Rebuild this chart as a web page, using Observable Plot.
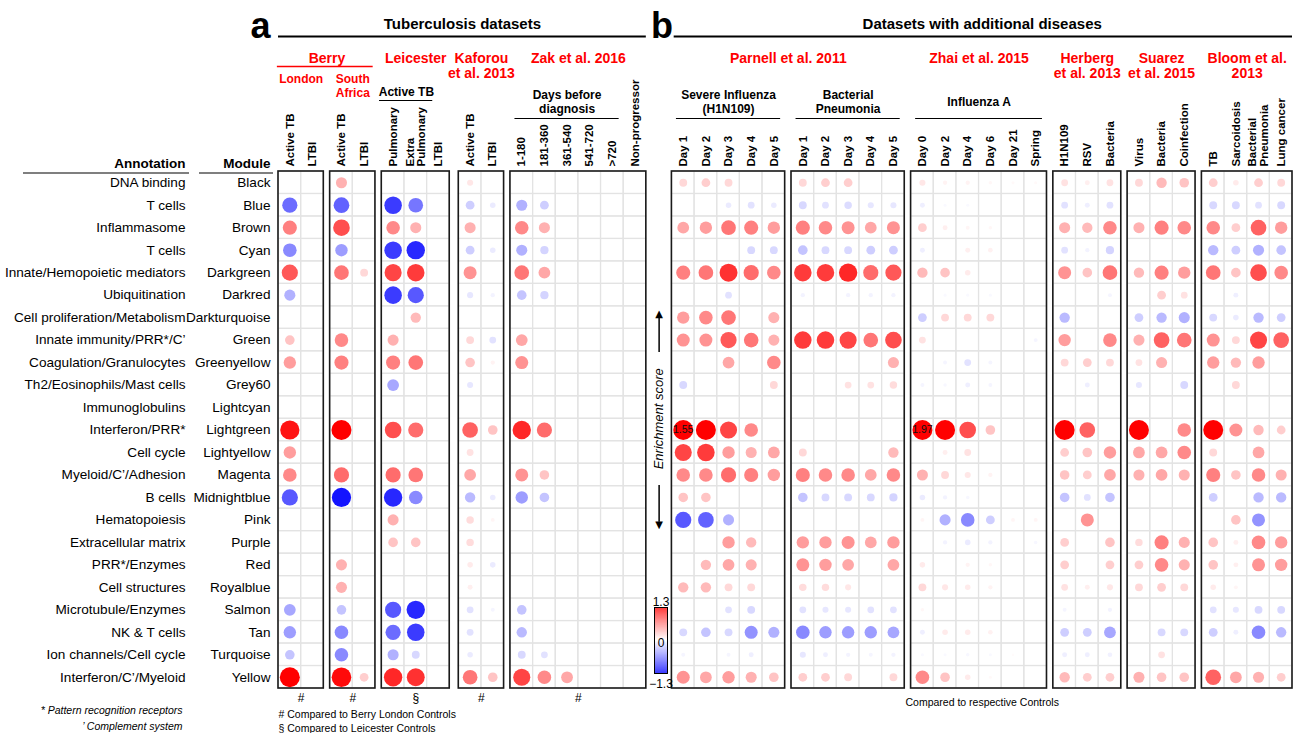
<!DOCTYPE html>
<html>
<head>
<meta charset="utf-8">
<script src="https://cdn.jsdelivr.net/npm/d3@7"></script>
<script src="https://cdn.jsdelivr.net/npm/@observablehq/plot@0.6"></script>
<style>
  html, body { margin: 0; padding: 0; background: #fff; }
  #wrap { position: relative; width: 1295px; height: 733px; overflow: hidden; }
  #wrap > svg { position: absolute; left: 0; top: 0; }
  #legend { position: absolute; left: 630px; top: 590px; }
</style>
</head>
<body>
<div id="wrap"><div id="legend"></div></div>
<script>
// ---------------- data ----------------
const modules = ["Black","Blue","Brown","Cyan","Darkgreen","Darkred","Darkturquoise","Green","Greenyellow","Grey60","Lightcyan","Lightgreen","Lightyellow","Magenta","Midnightblue","Pink","Purple","Red","Royalblue","Salmon","Tan","Turquoise","Yellow"];
const annotations = ["DNA binding","T cells","Inflammasome","T cells","Innate/Hemopoietic mediators","Ubiquitination","Cell proliferation/Metabolism","Innate immunity/PRR*/C\u2019","Coagulation/Granulocytes","Th2/Eosinophils/Mast cells","Immunoglobulins","Interferon/PRR*","Cell cycle","Myeloid/C\u2019/Adhesion","B cells","Hematopoiesis","Extracellular matrix","PRR*/Enzymes","Cell structures","Microtubule/Enzymes","NK & T cells","Ion channels/Cell cycle","Interferon/C\u2019/Myeloid"];

// Panel a — Tuberculosis datasets (enrichment score per module; missing = not significant)
const berryLondon = {
  "Active TB": {Blue:-0.75, Brown:0.65, Cyan:-0.6, Darkgreen:0.85, Darkred:-0.4, Green:0.3, Greenyellow:0.5, Lightgreen:1.2, Lightyellow:0.5, Magenta:0.6, Midnightblue:-0.85, Salmon:-0.45, Tan:-0.5, Turquoise:-0.3, Yellow:1.3},
  "LTBI": {}
};
const berrySouthAfrica = {
  "Active TB": {Black:0.4, Blue:-0.8, Brown:0.9, Cyan:-0.5, Darkgreen:0.7, Green:0.6, Greenyellow:0.65, Lightgreen:1.3, Magenta:0.75, Midnightblue:-1.2, Red:0.4, Royalblue:0.4, Salmon:-0.3, Tan:-0.6, Turquoise:-0.6, Yellow:1.25},
  "LTBI": {Darkgreen:0.2, Yellow:0.25}
};
const leicester = {
  "Pulmonary": {Blue:-1.0, Brown:0.6, Cyan:-1.0, Darkgreen:0.95, Darkred:-1.0, Green:0.4, Greenyellow:0.65, Grey60:-0.45, Lightgreen:0.9, Magenta:0.75, Midnightblue:-1.1, Pink:0.4, Purple:0.3, Salmon:-0.85, Tan:-0.75, Turquoise:-0.4, Yellow:1.1},
  "Extra\nPulmonary": {Blue:-0.7, Brown:0.4, Cyan:-1.1, Darkgreen:1.0, Darkred:-0.85, Darkturquoise:0.35, Greenyellow:0.7, Lightgreen:0.75, Magenta:0.7, Midnightblue:-0.6, Purple:0.3, Salmon:-1.1, Tan:-1.0, Turquoise:-0.2, Yellow:1.05},
  "LTBI": {}
};
const kaforou = {
  "Active TB": {Black:0.12, Blue:-0.25, Brown:0.4, Cyan:-0.25, Darkgreen:0.55, Darkred:-0.12, Green:0.2, Greenyellow:0.3, Grey60:-0.12, Lightgreen:0.8, Lightyellow:0.15, Magenta:0.45, Midnightblue:-0.35, Pink:0.18, Purple:0.18, Red:0.1, Royalblue:0.08, Salmon:-0.15, Tan:-0.15, Turquoise:-0.1, Yellow:0.7},
  "LTBI": {Blue:-0.1, Cyan:-0.1, Darkred:-0.06, Green:-0.15, Greenyellow:0.06, Lightgreen:0.3, Midnightblue:-0.1, Pink:0.05, Red:-0.1, Salmon:-0.05, Yellow:0.3}
};
const zak = {
  "1-180": {Blue:-0.4, Brown:0.6, Cyan:-0.4, Darkgreen:0.7, Darkred:-0.3, Green:0.45, Greenyellow:0.55, Lightgreen:1.1, Magenta:0.55, Midnightblue:-0.5, Salmon:-0.3, Tan:-0.35, Turquoise:-0.2, Yellow:0.95},
  "181-360": {Blue:-0.25, Brown:0.4, Cyan:-0.22, Darkgreen:0.45, Darkred:-0.22, Lightgreen:0.75, Magenta:0.3, Midnightblue:-0.3, Turquoise:-0.15, Yellow:0.6},
  "361-540": {Yellow:0.45},
  "541-720": {},
  ">720": {},
  "Non-progressor": {}
};

// Panel b — Datasets with additional diseases
const parnellInfluenza = {
  "Day 1": {Black:0.2, Brown:0.45, Darkgreen:0.65, Darkturquoise:0.5, Green:0.55, Grey60:-0.2, Lightgreen:1.55, Lightyellow:0.95, Magenta:0.6, Midnightblue:0.3, Pink:-0.85, Royalblue:0.35, Tan:-0.2, Turquoise:-0.05, Yellow:0.55},
  "Day 2": {Black:0.25, Brown:0.5, Darkgreen:0.7, Darkturquoise:0.6, Green:0.55, Lightgreen:1.45, Lightyellow:1.0, Magenta:0.6, Midnightblue:0.3, Pink:-0.8, Red:0.35, Royalblue:0.35, Tan:-0.3, Yellow:0.45},
  "Day 3": {Black:0.2, Blue:-0.1, Brown:0.7, Darkgreen:1.05, Darkred:-0.15, Darkturquoise:0.7, Green:0.85, Greenyellow:0.45, Lightgreen:0.95, Lightyellow:0.5, Magenta:0.75, Pink:-0.4, Purple:0.5, Red:0.45, Royalblue:0.2, Salmon:-0.15, Tan:-0.2, Turquoise:-0.05, Yellow:0.5},
  "Day 4": {Blue:-0.15, Brown:0.65, Cyan:-0.2, Darkgreen:0.75, Green:0.7, Lightgreen:0.6, Lightyellow:0.4, Magenta:0.65, Purple:0.35, Red:0.4, Royalblue:0.2, Salmon:-0.2, Tan:-0.55, Turquoise:-0.08, Yellow:0.4},
  "Day 5": {Blue:-0.1, Brown:0.5, Cyan:-0.2, Darkgreen:0.6, Darkturquoise:0.4, Green:0.4, Greenyellow:0.6, Grey60:0.2, Lightyellow:0.45, Magenta:0.5, Tan:-0.4, Yellow:0.3}
};
const parnellPneumonia = {
  "Day 1": {Black:0.2, Blue:-0.2, Brown:0.65, Cyan:-0.3, Darkgreen:1.0, Darkred:-0.06, Green:1.0, Lightyellow:0.2, Magenta:0.65, Midnightblue:-0.3, Purple:0.5, Red:0.55, Royalblue:0.18, Salmon:-0.15, Tan:-0.6, Turquoise:-0.12, Yellow:0.25},
  "Day 2": {Black:0.25, Blue:-0.15, Brown:0.6, Cyan:-0.2, Darkgreen:1.0, Green:1.0, Magenta:0.6, Midnightblue:-0.2, Purple:0.5, Red:0.5, Royalblue:0.18, Salmon:-0.12, Tan:-0.5, Turquoise:-0.08, Yellow:0.25},
  "Day 3": {Black:0.25, Blue:-0.18, Brown:0.55, Cyan:-0.2, Darkgreen:1.1, Darkred:-0.06, Green:0.95, Grey60:0.15, Magenta:0.6, Midnightblue:-0.2, Purple:0.55, Red:0.45, Royalblue:0.12, Salmon:-0.12, Tan:-0.5, Turquoise:-0.06, Yellow:0.2},
  "Day 4": {Blue:-0.12, Brown:0.45, Cyan:-0.25, Darkgreen:0.75, Darkred:-0.06, Green:0.7, Grey60:0.15, Magenta:0.45, Midnightblue:-0.2, Purple:0.45, Salmon:-0.15, Tan:-0.5, Turquoise:-0.05},
  "Day 5": {Blue:-0.12, Brown:0.55, Cyan:-0.25, Darkgreen:0.85, Darkred:-0.06, Green:0.9, Greenyellow:0.4, Grey60:0.18, Lightyellow:0.35, Magenta:0.6, Midnightblue:-0.22, Purple:0.5, Red:0.45, Salmon:-0.15, Tan:-0.45, Turquoise:-0.06, Yellow:0.2}
};
const zhai = {
  "Day 0": {Black:0.12, Blue:-0.08, Brown:0.25, Cyan:-0.08, Darkgreen:0.35, Darkturquoise:-0.25, Green:0.15, Grey60:-0.05, Lightgreen:1.97, Magenta:0.4, Midnightblue:-0.1, Pink:0.05, Red:0.1, Royalblue:0.2, Salmon:0.04, Tan:-0.08, Turquoise:-0.03, Yellow:0.6},
  "Day 2": {Black:0.06, Blue:-0.03, Brown:0.08, Darkgreen:0.3, Darkred:-0.03, Darkturquoise:0.2, Greenyellow:-0.05, Grey60:-0.04, Lightgreen:1.5, Lightyellow:0.08, Magenta:0.2, Midnightblue:-0.06, Pink:-0.4, Purple:-0.06, Royalblue:0.12, Tan:0.1, Turquoise:-0.03, Yellow:0.3},
  "Day 4": {Black:0.06, Blue:-0.03, Brown:0.05, Cyan:0.08, Darkgreen:0.1, Darkred:-0.03, Darkturquoise:0.2, Greenyellow:-0.15, Grey60:-0.08, Lightgreen:0.9, Lightyellow:0.15, Magenta:0.12, Midnightblue:-0.04, Pink:-0.6, Purple:-0.1, Red:0.06, Royalblue:0.1, Tan:0.1, Turquoise:-0.04, Yellow:0.1},
  "Day 6": {Black:0.04, Brown:0.04, Cyan:0.07, Darkred:-0.03, Darkturquoise:0.2, Greenyellow:-0.05, Grey60:-0.05, Lightgreen:0.3, Magenta:0.06, Pink:-0.25, Purple:-0.06, Red:0.04, Royalblue:0.06, Tan:0.07, Turquoise:-0.03, Yellow:0.03},
  "Day 21": {Black:0.03, Pink:0.05, Turquoise:0.02},
  "Spring": {Black:0.03, Green:-0.05, Pink:0.05, Purple:-0.04}
};
const herberg = {
  "H1N109": {Black:0.15, Blue:-0.15, Brown:0.4, Cyan:-0.15, Darkgreen:0.55, Darkturquoise:-0.35, Green:0.5, Greenyellow:0.2, Lightgreen:1.35, Lightyellow:0.25, Magenta:0.3, Midnightblue:-0.3, Purple:0.25, Red:0.25, Royalblue:0.15, Salmon:-0.05, Tan:-0.25, Turquoise:-0.08, Yellow:0.35},
  "RSV": {Black:0.08, Blue:-0.08, Brown:0.35, Cyan:-0.06, Darkgreen:0.3, Greenyellow:0.25, Grey60:-0.08, Lightgreen:0.8, Lightyellow:0.3, Magenta:0.25, Midnightblue:-0.15, Pink:0.55, Royalblue:0.08, Tan:-0.25, Turquoise:-0.08, Yellow:0.25},
  "Bacteria": {Black:0.15, Blue:-0.15, Brown:0.6, Cyan:-0.22, Darkgreen:0.7, Darkred:-0.05, Green:0.6, Greenyellow:0.2, Lightyellow:0.5, Magenta:0.45, Midnightblue:-0.3, Purple:0.3, Red:0.25, Royalblue:0.12, Salmon:-0.06, Tan:-0.45, Turquoise:-0.07, Yellow:0.25}
};
const suarez = {
  "Virus": {Black:0.2, Brown:0.4, Darkgreen:0.35, Darkturquoise:-0.25, Green:0.4, Greenyellow:0.15, Grey60:-0.12, Lightgreen:1.35, Lightyellow:0.45, Magenta:0.4, Purple:0.18, Red:0.25, Royalblue:0.2, Yellow:0.4},
  "Bacteria": {Black:0.35, Brown:0.65, Darkgreen:0.65, Darkred:0.25, Darkturquoise:-0.35, Green:0.8, Greenyellow:0.4, Lightyellow:0.45, Magenta:0.45, Purple:0.65, Red:0.6, Royalblue:0.25, Tan:-0.2, Turquoise:0.15, Yellow:0.3},
  "Coinfection": {Black:0.3, Brown:0.6, Darkgreen:0.5, Darkred:0.15, Darkturquoise:-0.4, Green:0.7, Grey60:-0.2, Lightgreen:0.6, Lightyellow:0.6, Magenta:0.4, Purple:0.4, Red:0.4, Royalblue:0.2, Tan:-0.2, Yellow:0.3}
};
const bloom = {
  "TB": {Black:0.25, Blue:-0.2, Brown:0.6, Cyan:-0.35, Darkgreen:0.7, Darkturquoise:-0.2, Green:0.55, Greenyellow:0.5, Lightgreen:1.3, Lightyellow:0.2, Magenta:0.65, Midnightblue:-0.25, Purple:0.3, Red:0.3, Royalblue:0.1, Salmon:-0.15, Tan:-0.25, Yellow:0.8},
  "Sarcoidosis": {Black:0.1, Blue:-0.2, Brown:0.25, Cyan:-0.25, Darkgreen:0.3, Darkred:-0.08, Darkturquoise:-0.1, Green:0.2, Greenyellow:0.35, Grey60:0.2, Lightgreen:0.55, Magenta:0.3, Pink:0.3, Purple:0.08, Red:0.08, Royalblue:0.05, Salmon:-0.12, Tan:-0.08, Yellow:0.45},
  "Bacterial\nPneumonia": {Black:0.25, Blue:-0.15, Brown:0.8, Cyan:-0.4, Darkgreen:0.9, Darkturquoise:-0.35, Green:0.95, Greenyellow:0.5, Lightgreen:0.35, Lightyellow:0.45, Magenta:0.6, Midnightblue:-0.35, Pink:-0.55, Purple:0.6, Red:0.55, Salmon:-0.2, Tan:-0.6, Yellow:0.4},
  "Lung cancer": {Black:0.2, Blue:-0.2, Brown:0.5, Cyan:-0.3, Darkgreen:0.6, Darkturquoise:-0.25, Green:0.8, Lightgreen:0.25, Magenta:0.4, Midnightblue:-0.35, Purple:0.5, Red:0.5, Salmon:-0.2, Tan:-0.35, Yellow:0.25}
};

// header texts
const datasetHeaders = [
  {text: "Berry", from: 0, to: 1}, {text: "Leicester", from: 2, to: 2},
  {text: "Kaforou\net al. 2013", from: 3, to: 3}, {text: "Zak et al. 2016", from: 4, to: 4},
  {text: "Parnell et al. 2011", from: 5, to: 6}, {text: "Zhai et al. 2015", from: 7, to: 7},
  {text: "Herberg\net al. 2013", from: 8, to: 8}, {text: "Suarez\net al. 2015", from: 9, to: 9},
  {text: "Bloom et al.\n2013", from: 10, to: 10}
];
const cohortHeaders = [{text: "London", box: 0}, {text: "South\nAfrica", box: 1}];
const subHeadersTwoLine = [
  {text: "Days before\ndiagnosis", box: 4, c0: 0, c1: 4},
  {text: "Severe Influenza\n(H1N109)", box: 5, c0: 0, c1: 4},
  {text: "Bacterial\nPneumonia", box: 6, c0: 0, c1: 4}
];
const subHeaderActive = [{text: "Active TB", box: 2, c0: 0, c1: 1}];
const subHeaderInfluenzaA = [{text: "Influenza A", box: 7, c0: 0, c1: 5}];
const boxFootMarks = [{text: "#", box: 0}, {text: "#", box: 1}, {text: "\u00a7", box: 2}, {text: "#", box: 3}, {text: "#", box: 4}];
const legendTicks = [1.3, 0, -1.3];

// ---------------- layout (slot units: one column = 1) ----------------
const boxDefs = [
  {data: berryLondon, gap: 0}, {data: berrySouthAfrica, gap: 0.28}, {data: leicester, gap: 0.28},
  {data: kaforou, gap: 0.4}, {data: zak, gap: 0.28},
  {data: parnellInfluenza, gap: 1.13}, {data: parnellPneumonia, gap: 0.28}, {data: zhai, gap: 0.28},
  {data: herberg, gap: 0.28}, {data: suarez, gap: 0.28}, {data: bloom, gap: 0.28}
];
let pos = 0;
const boxes = [], columns = [], cells = [], dots = [];
boxDefs.forEach((b, bi) => {
  pos += b.gap;
  const names = Object.keys(b.data);
  boxes.push({x1: pos, x2: pos + names.length, cx: pos + names.length / 2});
  names.forEach((name, j) => {
    const x = pos + j + 0.5;
    columns.push({name, x});
    modules.forEach((m, i) => {
      cells.push({x, row: i});
      const v = b.data[name][m];
      if (v != null) dots.push({x, row: i, v, module: m, column: name});
    });
  });
  pos += names.length;
});
const total = pos;

const W = 1295, H = 733, ML = 278, MR = 3, MT = 171, MB = 45;
const slotPx = (W - ML - MR) / total;
const sx = p => (p - ML) / slotPx;          // page pixel -> slot (for margin decorations)
const fromTop = y => y - MT;                 // offset from frame top
const fromBot = y => y - (H - MB);           // offset from frame bottom

const sub = (arr) => arr.map(d => ({...d, x1: boxes[d.box].x1 + d.c0, x2: boxes[d.box].x1 + d.c1 + 1, x: boxes[d.box].x1 + (d.c0 + d.c1 + 1) / 2}));
const dsH = datasetHeaders.map(d => ({...d, x: (boxes[d.from].x1 + boxes[d.to].x2) / 2}));
const sub2 = sub(subHeadersTwoLine), subA = sub(subHeaderActive), subI = sub(subHeaderInfluenzaA);
const gapX = (boxes[4].x2 + boxes[5].x1) / 2;

const colorScale = {type: "linear", domain: [-1.3, 0, 1.3], range: ["#0000ff", "#ffffff", "#ff0000"], clamp: true};
const font = "'Liberation Sans', Arial, Helvetica, sans-serif";
const RED = "#ff0000";
const ROWFONT = 13.6;

const chart = Plot.plot({
  width: W, height: H, marginLeft: ML, marginRight: MR, marginTop: MT, marginBottom: MB,
  x: {domain: [0, total], axis: null},
  y: {domain: [0, modules.length], reverse: true, axis: null},
  color: colorScale,
  r: {type: "sqrt", domain: [0, 1.3], range: [0, 10], clamp: true},
  style: {fontFamily: font, background: "#fff", overflow: "visible"},
  marks: [
    // grid cells
    Plot.rect(cells, {x1: d => d.x - 0.5, x2: d => d.x + 0.5, y1: "row", y2: d => d.row + 1, fill: "none", stroke: "#e3e3e3", strokeWidth: 1.2}),
    // enrichment dots
    Plot.dot(dots, {x: "x", y: d => d.row + 0.5, r: d => Math.abs(d.v), fill: "v", stroke: null}),
    Plot.text(dots.filter(d => d.v >= 1.55), {x: "x", y: d => d.row + 0.5, text: d => d.v.toFixed(2), fontSize: 10.5, fill: "#111"}),
    // dataset boxes
    Plot.rect(boxes, {x1: "x1", x2: "x2", y1: () => 0, y2: () => modules.length, fill: "none", stroke: "#1a1a1a", strokeWidth: 1.6}),

    // row labels
    Plot.text(modules, {y: (d, i) => i + 0.5, text: d => d, frameAnchor: "left", textAnchor: "end", dx: -8, fontSize: ROWFONT}),
    Plot.text(annotations, {y: (d, i) => i + 0.5, text: d => d, frameAnchor: "left", textAnchor: "end", dx: -93, fontSize: ROWFONT}),
    Plot.text(["Module"], {frameAnchor: "top-left", textAnchor: "end", lineAnchor: "bottom", dx: -8, dy: fromTop(167.5), fontSize: 13.5, fontWeight: "bold"}),
    Plot.text(["Annotation"], {frameAnchor: "top-left", textAnchor: "end", lineAnchor: "bottom", dx: -93, dy: fromTop(167.5), fontSize: 13.5, fontWeight: "bold"}),
    Plot.ruleY([{x1: sx(23), x2: sx(189)}, {x1: sx(199), x2: sx(273)}], {y: () => 0, x1: "x1", x2: "x2", dy: 1.5, stroke: "#000", strokeWidth: 1.2}),

    // column labels (rotated)
    Plot.text(columns, {x: "x", text: "name", frameAnchor: "top", rotate: -90, textAnchor: "start", lineAnchor: "middle", lineHeight: 1.0, dy: fromTop(166), fontSize: 11.5, fontWeight: "bold"}),

    // panel letters and titles
    Plot.text(["a"], {x: () => boxes[0].x1, frameAnchor: "top", textAnchor: "end", lineAnchor: "bottom", dx: -8, dy: fromTop(37), fontSize: 36, fontWeight: "bold"}),
    Plot.text(["b"], {x: () => gapX, frameAnchor: "top", textAnchor: "middle", lineAnchor: "bottom", dx: 3, dy: fromTop(37), fontSize: 36, fontWeight: "bold"}),
    Plot.text([
      {text: "Tuberculosis datasets", x: (boxes[0].x1 + boxes[4].x2) / 2},
      {text: "Datasets with additional diseases", x: (boxes[5].x1 + boxes[10].x2) / 2}
    ], {x: "x", text: "text", frameAnchor: "top", lineAnchor: "bottom", dy: fromTop(28.5), fontSize: 15, fontWeight: "bold"}),
    Plot.ruleY([{x1: boxes[0].x1, x2: boxes[4].x2}, {x1: boxes[5].x1 + 0.1, x2: boxes[10].x2}], {y: () => 0, x1: "x1", x2: "x2", dy: fromTop(36), stroke: "#000", strokeWidth: 2.2}),

    // dataset headers (red)
    Plot.text(dsH, {x: "x", text: "text", frameAnchor: "top", lineAnchor: "top", lineHeight: 16 / 14, dy: fromTop(62 - 0.71 * 16), fontSize: 14, fontWeight: "bold", fill: RED}),
    Plot.ruleY([{x1: boxes[0].x1 - 0.05, x2: boxes[1].x2 - 0.1}], {y: () => 0, x1: "x1", x2: "x2", dy: fromTop(66), stroke: RED, strokeWidth: 1.5}),
    Plot.text(cohortHeaders.map(d => ({...d, x: boxes[d.box].cx})), {x: "x", text: "text", frameAnchor: "top", lineAnchor: "top", lineHeight: 14 / 12, dy: fromTop(82.3 - 0.71 * 14), fontSize: 12, fontWeight: "bold", fill: RED}),

    // sub headers (black)
    Plot.text(subA, {x: "x", text: "text", frameAnchor: "top", lineAnchor: "bottom", dx: 2, dy: fromTop(95.3), fontSize: 12, fontWeight: "bold"}),
    Plot.ruleY(subA, {y: () => 0, x1: d => d.x1 - 0.1, x2: d => d.x2 + 0.25, dy: fromTop(100), stroke: "#000", strokeWidth: 1.2}),
    Plot.text(sub2, {x: "x", text: "text", frameAnchor: "top", lineAnchor: "bottom", lineHeight: 14 / 12, dy: fromTop(112.3), fontSize: 12, fontWeight: "bold"}),
    Plot.text(subI, {x: "x", text: "text", frameAnchor: "top", lineAnchor: "bottom", dy: fromTop(105.3), fontSize: 12, fontWeight: "bold"}),
    Plot.ruleY([...sub2, ...subI], {y: () => 0, x1: d => d.x1 + 0.2, x2: d => d.x2 - 0.2, dy: fromTop(118), stroke: "#000", strokeWidth: 1.2}),

    // enrichment score annotation
    Plot.text(["Enrichment score"], {x: () => gapX, y: () => 11, rotate: -90, fontSize: 13, fontStyle: "italic"}),
    Plot.ruleX([{y1: 8.05, y2: 6.4}, {y1: 13.97, y2: 15.6}], {x: () => gapX, y1: "y1", y2: "y2", stroke: "#000", strokeWidth: 1.5}),
    Plot.text([{t: "\u25B2", y: 6.35}, {t: "\u25BC", y: 15.72}], {x: () => gapX, y: "y", text: "t", fontSize: 10, fontFamily: "DejaVu Sans"}),

    // footnotes
    Plot.text(boxFootMarks.map(d => ({...d, x: boxes[d.box].cx})), {x: "x", text: "text", frameAnchor: "bottom", lineAnchor: "bottom", dy: fromBot(701), fontSize: 12}),
    Plot.text(["# Compared to Berry London Controls"], {x: () => boxes[0].x1, frameAnchor: "bottom", textAnchor: "start", lineAnchor: "bottom", dy: fromBot(717), fontSize: 10.5}),
    Plot.text(["\u00a7 Compared to Leicester Controls"], {x: () => boxes[0].x1, frameAnchor: "bottom", textAnchor: "start", lineAnchor: "bottom", dy: fromBot(731), fontSize: 10.5}),
    Plot.text(["Compared to respective Controls"], {x: () => (boxes[5].x1 + boxes[10].x2) / 2, frameAnchor: "bottom", lineAnchor: "bottom", dy: fromBot(705), fontSize: 10.5}),
    Plot.text(["* Pattern recognition receptors"], {frameAnchor: "bottom-left", textAnchor: "end", lineAnchor: "bottom", dx: -96, dy: fromBot(713), fontSize: 10.5, fontStyle: "italic"}),
    Plot.text(["\u2019 Complement system"], {frameAnchor: "bottom-left", textAnchor: "end", lineAnchor: "bottom", dx: -96, dy: fromBot(729), fontSize: 10.5, fontStyle: "italic"})
  ]
});
document.getElementById("wrap").prepend(chart);

// colour legend
const legendStops = d3.range(-1.3, 1.3, 0.02);
const legend = Plot.plot({
  width: 60, height: 105, marginLeft: 24, marginRight: 23, marginTop: 17, marginBottom: 22,
  x: {domain: [0, 1], axis: null},
  y: {domain: [-1.3, 1.3], axis: null},
  color: colorScale,
  style: {fontFamily: font, background: "transparent", overflow: "visible"},
  marks: [
    Plot.rect(legendStops, {x1: () => 0, x2: () => 1, y1: d => d, y2: d => Math.min(1.3, d + 0.021), fill: d => d + 0.01}),
    Plot.frame({stroke: "#000", strokeWidth: 1}),
    Plot.text([legendTicks[0]], {x: () => 0.5, y: d => d, text: d => d.toFixed(1), lineAnchor: "bottom", dy: -2, fontSize: 12}),
    Plot.text([legendTicks[1]], {x: () => 0.5, y: d => d, text: d => "0", lineAnchor: "bottom", dy: 6, fontSize: 12}),
    Plot.text([legendTicks[2]], {x: () => 0.5, y: d => d, text: d => "\u2212" + Math.abs(d).toFixed(1), lineAnchor: "bottom", dy: 14, fontSize: 12})
  ]
});
document.getElementById("legend").appendChild(legend);
</script>
</body>
</html>
